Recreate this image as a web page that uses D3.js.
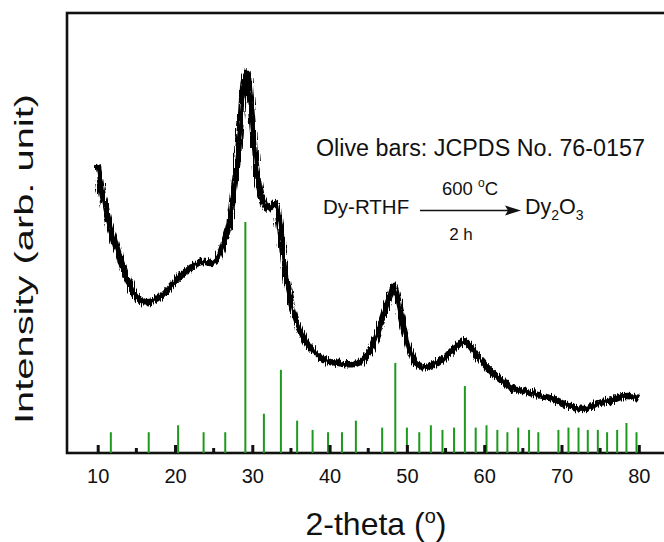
<!DOCTYPE html>
<html>
<head>
<meta charset="utf-8">
<script src="https://cdn.jsdelivr.net/npm/d3@7"></script>
<style>
    body { margin: 0; background: white; }
    text { font-family: Arial, "Liberation Sans", sans-serif; fill: #111; }
</style>
</head>
<body>
<div id="chart"></div>
<script>
// measured XRD pattern (2-theta in degrees, intensity in arb. units)
const twoTheta = [10.0, 10.5, 11.0, 11.5, 12.0, 12.5, 13.0, 13.5, 14.0, 14.5, 15.0, 15.5, 16.0, 16.5, 17.0, 17.5,
    18.0, 18.5, 19.0, 19.5, 20.0, 20.5, 21.0, 21.5, 22.0, 22.5, 23.0, 23.5, 24.0, 24.5, 25.0, 25.5, 26.0, 26.5,
    27.0, 27.5, 28.0, 28.5, 29.0, 29.3, 29.6, 30.0, 30.5, 31.0, 31.5, 32.0, 32.5, 33.0, 33.5, 34.0, 34.5, 35.0,
    35.5, 36.0, 37.0, 38.0, 39.0, 40.0, 41.0, 42.0, 43.0, 44.0, 45.0, 45.5, 46.0, 46.5, 47.0, 47.5, 48.0, 48.3,
    48.7, 49.0, 49.5, 50.0, 50.5, 51.0, 52.0, 53.0, 54.0, 55.0, 56.0, 57.0, 57.5, 58.0, 58.5, 59.0, 60.0, 61.0,
    62.0, 63.0, 64.0, 65.0, 66.0, 67.0, 68.0, 69.0, 70.0, 71.0, 72.0, 73.0, 74.0, 75.0, 76.0, 77.0, 78.0, 79.0, 80.0];
const intensity = [65.5, 60.0, 55.7, 52.0, 49.3, 46.4, 43.6, 40.9, 38.9, 36.8, 35.5, 34.8, 34.3, 34.3, 34.5, 35.0,
    35.5, 36.1, 37.0, 38.0, 38.9, 39.8, 40.7, 41.4, 42.0, 42.7, 43.2, 43.4, 43.4, 43.2, 43.4, 44.2, 46.1, 48.9,
    52.0, 58.6, 65.2, 75.7, 85.3, 86.5, 82.5, 75.2, 64.8, 59.4, 57.0, 55.5, 56.2, 56.8, 52.5, 45.0, 38.6, 34.3,
    31.1, 28.6, 25.2, 23.0, 21.6, 20.7, 20.5, 20.2, 20.2, 20.7, 22.5, 23.9, 26.1, 28.9, 31.6, 34.3, 36.8, 38.0,
    35.9, 33.0, 28.9, 25.2, 22.5, 20.7, 19.5, 19.8, 20.5, 21.8, 23.6, 25.0, 25.4, 24.6, 23.6, 22.3, 20.2, 18.4,
    16.8, 15.5, 14.5, 14.1, 13.6, 13.2, 12.7, 12.3, 11.4, 10.7, 10.2, 10.0, 10.7, 11.4, 11.8, 12.3, 12.9, 12.9, 12.3];

// reference lines, JCPDS No. 76-0157 (position, relative intensity %)
const refPos = [11.7, 16.6, 20.4, 23.7, 26.5, 29.1, 31.5, 33.7, 35.8, 37.8, 39.8, 41.6, 43.4, 46.8, 48.5, 50.0,
    51.6, 53.1, 54.6, 56.1, 57.5, 58.9, 60.3, 61.7, 63.0, 64.4, 65.8, 67.0, 69.6, 70.9, 72.2, 73.4, 74.7, 75.9,
    77.2, 78.4, 79.7];
const refInt = [9, 9, 12, 9, 9, 100, 17, 36, 14, 10, 9, 9, 14, 11, 39, 11,
    9, 12, 10, 11, 29, 11, 12, 10, 9, 11, 10, 9, 10, 11, 11, 10, 10, 9,
    10, 13, 9];

const majorTicks = [10, 20, 30, 40, 50, 60, 70, 80];
const minorTicks = [15, 25, 35, 45, 55, 65, 75];

const width = 664, height = 542;
const margin = {top: 13, left: 67, bottom: 89};
const plotRight = 668; // frame runs past the right edge of the picture

const svg = d3.select('#chart').append('svg')
    .attr('width', width)
    .attr('height', height);

// rough texture for the heavy curve so it reads like a noisy scan
const filt = svg.append('defs').append('filter')
    .attr('id', 'jitter')
    .attr('filterUnits', 'userSpaceOnUse')
    .attr('x', 0).attr('y', 0).attr('width', width).attr('height', height);
filt.append('feTurbulence')
    .attr('type', 'fractalNoise')
    .attr('baseFrequency', '0.9 0.06')
    .attr('numOctaves', 1)
    .attr('seed', 4)
    .attr('result', 'noise');
filt.append('feDisplacementMap')
    .attr('in', 'SourceGraphic')
    .attr('in2', 'noise')
    .attr('scale', 9)
    .attr('xChannelSelector', 'R')
    .attr('yChannelSelector', 'G');

const x = d3.scaleLinear().domain([10, 80]).range([97.7, 638.8]);
const y = d3.scaleLinear().domain([0, 100]).range([height - margin.bottom, margin.top]);
// reference bars: 100 % reaches this level on the intensity axis
const barY = d3.scaleLinear().domain([0, 100]).range([y(0), y(52.5)]);

// frame
svg.append('rect')
    .attr('x', margin.left)
    .attr('y', margin.top)
    .attr('width', plotRight - margin.left)
    .attr('height', y(0) - margin.top)
    .attr('fill', 'none')
    .attr('stroke', '#111')
    .attr('stroke-width', 2.6);

// olive (green) reference bars
svg.append('g').selectAll('line')
    .data(refPos.map((p, i) => [p, refInt[i]]))
    .join('line')
    .attr('x1', d => x(d[0])).attr('x2', d => x(d[0]))
    .attr('y1', barY(0)).attr('y2', d => barY(d[1]))
    .attr('stroke', '#1d9a1d')
    .attr('stroke-width', 2);

// measured curve
const line = d3.line()
    .x(d => x(d[0]))
    .y(d => y(d[1]))
    .curve(d3.curveCatmullRom);
svg.append('path')
    .datum(twoTheta.map((t, i) => [t, intensity[i]]))
    .attr('d', line)
    .attr('fill', 'none')
    .attr('stroke', '#000')
    .attr('stroke-width', 6.5)
    .attr('stroke-linejoin', 'round')
    .attr('filter', 'url(#jitter)');

// x axis: ticks point inward
const xAxis = d3.axisBottom(x).tickValues(majorTicks).tickSizeInner(-8).tickSizeOuter(0);
const gx = svg.append('g').attr('transform', `translate(0,${y(0)})`).call(xAxis);
gx.select('.domain').remove();
gx.selectAll('.tick line').attr('stroke', '#111').attr('stroke-width', 3);
gx.selectAll('.tick text')
    .attr('font-size', 20)
    .attr('dy', '0.71em')
    .attr('y', 16)
    .style('font-family', 'Arial, "Liberation Sans", sans-serif')
    .attr('fill', '#111');
gx.append('g').selectAll('line')
    .data(minorTicks)
    .join('line')
    .attr('x1', d => x(d)).attr('x2', d => x(d))
    .attr('y1', 0).attr('y2', -5)
    .attr('stroke', '#111')
    .attr('stroke-width', 3);

// axis titles
const xt = svg.append('text')
    .attr('x', 376)
    .attr('y', 535)
    .attr('text-anchor', 'middle')
    .attr('font-size', 32)
    .text('2-theta (');
xt.append('tspan').attr('font-size', 20).attr('dy', -12).text('o');
xt.append('tspan').attr('dy', 12).text(')');

svg.append('text')
    .attr('transform', 'translate(33,259) rotate(-90)')
    .attr('text-anchor', 'middle')
    .attr('font-size', 25)
    .attr('textLength', 330)
    .attr('lengthAdjust', 'spacingAndGlyphs')
    .text('Intensity (arb. unit)');

// annotations
svg.append('text')
    .attr('x', 316)
    .attr('y', 156)
    .attr('font-size', 23.3)
    .text('Olive bars: JCPDS No. 76-0157');

svg.append('text')
    .attr('x', 323)
    .attr('y', 214)
    .attr('font-size', 20.5)
    .text('Dy-RTHF');

// reaction arrow
svg.append('line')
    .attr('x1', 420).attr('x2', 512)
    .attr('y1', 210.5).attr('y2', 210.5)
    .attr('stroke', '#111')
    .attr('stroke-width', 1.5);
svg.append('path')
    .attr('d', 'M521,210.5 L505,205.5 L508,210.5 L505,215.5 Z')
    .attr('fill', '#111');

const cond = svg.append('text')
    .attr('x', 470)
    .attr('y', 195)
    .attr('text-anchor', 'middle')
    .attr('font-size', 18.5);
cond.append('tspan').text('600 ');
cond.append('tspan').attr('font-size', 12).attr('dy', -8).text('o');
cond.append('tspan').attr('dy', 8).text('C');

svg.append('text')
    .attr('x', 461)
    .attr('y', 240)
    .attr('text-anchor', 'middle')
    .attr('font-size', 17)
    .text('2 h');

const prod = svg.append('text')
    .attr('x', 525)
    .attr('y', 214)
    .attr('font-size', 21.5);
prod.append('tspan').text('Dy');
prod.append('tspan').attr('font-size', 14).attr('dy', 6).text('2');
prod.append('tspan').attr('dy', -6).text('O');
prod.append('tspan').attr('font-size', 14).attr('dy', 6).text('3');
</script>
</body>
</html>
